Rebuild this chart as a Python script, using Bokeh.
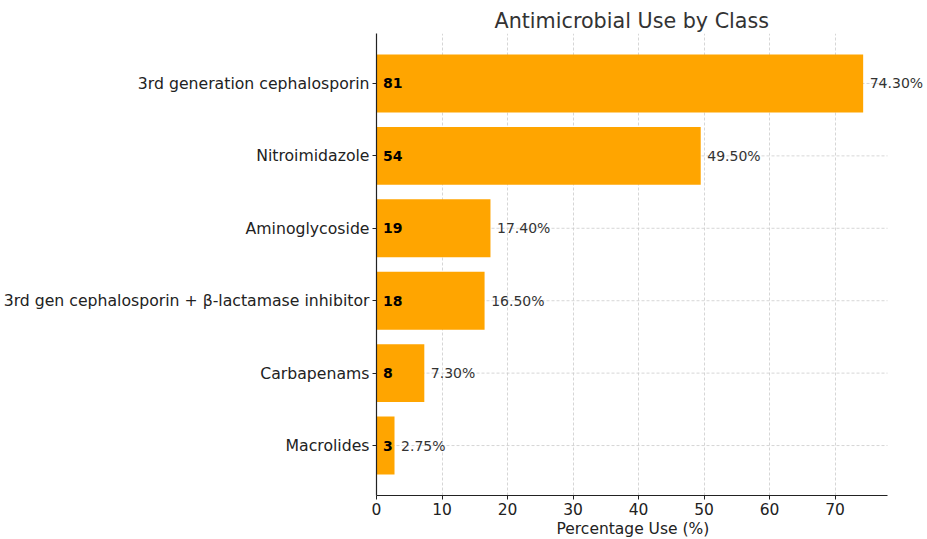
from bokeh.plotting import figure
from bokeh.models import ColumnDataSource, Range1d, FixedTicker, LabelSet, Title
from bokeh.core.properties import value
from bokeh.embed import file_html
from bokeh.resources import INLINE

categories = ["3rd generation cephalosporin", "Nitroimidazole", "Aminoglycoside",
              "3rd gen cephalosporin + \u03b2-lactamase inhibitor", "Carbapenams", "Macrolides"]
percentages = [74.30, 49.50, 17.40, 16.50, 7.30, 2.75]
counts = [81, 54, 19, 18, 8, 3]
x_ticks = [0, 10, 20, 30, 40, 50, 60, 70]

n = len(categories)
ypos = [n - 1 - i for i in range(n)]
xmax = max(percentages) * 1.05
src = ColumnDataSource(dict(
    y=ypos, pct=percentages, cnt=[str(c) for c in counts],
    cnt_x=[1] * n,
    pct_x=[v + 1 for v in percentages],
    pct_label=[f"{v:.2f}%" for v in percentages],
    x0=[0] * n, x1=[xmax] * n,
))

FONT = "DejaVu Sans"
# frame is extended to the right so the value labels are not clipped;
# axis line and grid stop at xmax like the reference's plot area
p = figure(width=927, height=537, output_backend="svg", toolbar_location=None,
           x_range=Range1d(0, xmax * 549 / 511), y_range=Range1d(-0.69, n - 1 + 0.69),
           title="Antimicrobial Use by Class")
p.min_border_right = 2
p.min_border_top = 33
p.min_border_bottom = 0
p.min_border_left = 0
p.outline_line_color = None
p.background_fill_color = "white"

p.title.text_font = FONT
p.title.text_font_size = "20.7px"
p.title.text_font_style = "normal"
p.title.text_color = "#333333"
p.title.align = "left"
p.title.offset = 118
p.title.standoff = 2

p.xgrid.ticker = FixedTicker(ticks=x_ticks)
p.xgrid.grid_line_color = "#cccccc"
p.xgrid.grid_line_dash = "3 2"
p.xgrid.grid_line_width = 0.8
p.ygrid.grid_line_color = None
p.segment(x0="x0", x1="x1", y0="y", y1="y", source=src, line_color="#cccccc",
          line_dash="3 2", line_width=0.8)

p.hbar(y="y", right="pct", left=0, height=0.8, source=src, fill_color="#FFA500",
       line_color=None)

p.xaxis.ticker = FixedTicker(ticks=x_ticks)
p.xaxis.bounds = (0, xmax)
p.yaxis.ticker = FixedTicker(ticks=ypos)
p.yaxis.major_label_overrides = {y: c for y, c in zip(ypos, categories)}
for ax in (p.xaxis, p.yaxis):
    ax.axis_line_color = "#222222"
    ax.axis_line_width = 1.2
    ax.major_tick_line_color = "#222222"
    ax.major_tick_out = 4
    ax.major_tick_in = 0
    ax.minor_tick_line_color = None
    ax.major_label_text_font = FONT
    ax.major_label_text_color = "#222222"
p.yaxis.major_label_text_font_size = "15.7px"
p.yaxis.major_label_standoff = 3
p.xaxis.major_label_text_font_size = "15.5px"
p.xaxis.major_label_standoff = 3

xlabel = Title(text="Percentage Use (%)", align="left", offset=180,
               text_font=FONT, text_font_size="15.5px", text_font_style="normal",
               text_color="#222222", standoff=0)
p.add_layout(xlabel, "below")

p.add_layout(LabelSet(x="cnt_x", y="y", text="cnt", source=src, text_font=value(FONT),
                      text_font_size="14px", text_font_style="bold", text_color="black",
                      text_baseline="middle", text_align="left"))
p.add_layout(LabelSet(x="pct_x", y="y", text="pct_label", source=src, text_font=value(FONT),
                      text_font_size="14px", text_color="#333333",
                      text_baseline="middle", text_align="left"))

open("out.html", "w").write(file_html(p, INLINE))
